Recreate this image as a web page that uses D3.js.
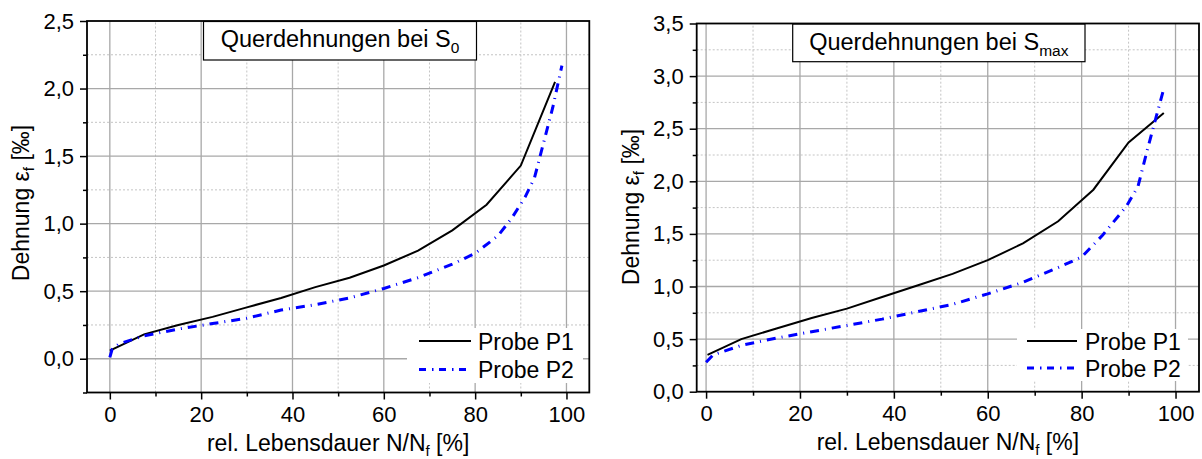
<!DOCTYPE html>
<html>
<head>
<meta charset="utf-8">
<script src="https://cdn.jsdelivr.net/npm/d3@7/dist/d3.min.js"></script>
<style>
  html, body { margin: 0; padding: 0; background: #fff; }
  svg { display: block; font-family: "Liberation Sans", Arial, sans-serif; }
</style>
</head>
<body>
<svg id="chart" width="1202" height="459"></svg>
<script>
// ---------- data ----------
const xTicks = [0, 20, 40, 60, 80, 100];
const xMinorTicks = [10, 30, 50, 70, 90];
const yTicksS0 = [0, 0.5, 1.0, 1.5, 2.0, 2.5];
const yMinorS0 = [-0.25, 0.25, 0.75, 1.25, 1.75, 2.25];
const yTicksSmax = [0, 0.5, 1.0, 1.5, 2.0, 2.5, 3.0, 3.5];
const yMinorSmax = [0.25, 0.75, 1.25, 1.75, 2.25, 2.75, 3.25];

const seriesNames = ["Probe P1", "Probe P2"];

const s0P1x = [0, 7.5, 15, 22.5, 30, 37.5, 45, 52.5, 60, 67.5, 75, 82.5, 90, 97.5];
const s0P1y = [0.06, 0.18, 0.25, 0.31, 0.38, 0.45, 0.53, 0.60, 0.69, 0.80, 0.95, 1.14, 1.43, 2.05];
const s0P2x = [0, 0.5, 2, 7.5, 15, 22.5, 30, 37.5, 45, 52.5, 60, 67.5, 75, 80, 85, 88, 91, 93, 95, 97, 99];
const s0P2y = [0.01, 0.07, 0.11, 0.17, 0.22, 0.26, 0.30, 0.36, 0.40, 0.45, 0.52, 0.60, 0.70, 0.78, 0.91, 1.04, 1.20, 1.34, 1.60, 1.86, 2.17];

const smP1x = [0.3, 7.5, 15, 22.5, 30, 37.5, 45, 52.5, 60, 67.5, 75, 82.5, 90, 97.5];
const smP1y = [0.35, 0.50, 0.60, 0.70, 0.79, 0.90, 1.01, 1.12, 1.25, 1.41, 1.62, 1.92, 2.37, 2.65];
const smP2x = [0, 1.5, 7.5, 15, 22.5, 30, 37.5, 45, 52.5, 60, 67.5, 75, 80, 84.5, 89.5, 92, 94, 95.5, 97.5];
const smP2y = [0.28, 0.35, 0.44, 0.51, 0.57, 0.63, 0.69, 0.76, 0.83, 0.93, 1.04, 1.18, 1.28, 1.49, 1.76, 1.95, 2.30, 2.55, 2.88];

// ---------- drawing ----------
const svg = d3.select("#chart");
const fmt = v => d3.format(".1f")(v).replace(".", ",");
const zip = (xs, ys) => xs.map((x, i) => ({x, y: ys[i]}));

function panel(cfg) {
  const x = d3.scaleLinear().domain(cfg.xDomain).range(cfg.xRange);
  const y = d3.scaleLinear().domain(cfg.yDomain).range(cfg.yRange);
  const g = svg.append("g");
  const [x0, x1] = cfg.xRange, [y0, y1] = cfg.yRange; // y0 bottom, y1 top

  // minor grid (dotted)
  g.append("g").selectAll("line").data(xMinorTicks).join("line")
    .attr("x1", d => x(d)).attr("x2", d => x(d)).attr("y1", y0).attr("y2", y1)
    .attr("stroke", "#c4c4c4").attr("stroke-width", 1).attr("stroke-dasharray", "2,2");
  g.append("g").selectAll("line").data(cfg.yMinor.filter(v => v > cfg.yDomain[0])).join("line")
    .attr("x1", x0).attr("x2", x1).attr("y1", d => y(d)).attr("y2", d => y(d))
    .attr("stroke", "#c4c4c4").attr("stroke-width", 1).attr("stroke-dasharray", "2,2");
  // major grid
  g.append("g").selectAll("line").data(xTicks).join("line")
    .attr("x1", d => x(d)).attr("x2", d => x(d)).attr("y1", y0).attr("y2", y1)
    .attr("stroke", "#a8a8a8").attr("stroke-width", 1.3);
  g.append("g").selectAll("line").data(cfg.yTicks.filter(v => v > cfg.yDomain[0] && v < cfg.yDomain[1])).join("line")
    .attr("x1", x0).attr("x2", x1).attr("y1", d => y(d)).attr("y2", d => y(d))
    .attr("stroke", "#a8a8a8").attr("stroke-width", 1.3);

  // legend background
  g.append("rect").attr("x", cfg.legend.bx).attr("y", cfg.legend.by)
    .attr("width", cfg.legend.bw).attr("height", cfg.legend.bh).attr("fill", "#fff");

  // title box
  g.append("rect").attr("x", cfg.title.x).attr("y", cfg.title.y)
    .attr("width", cfg.title.w).attr("height", cfg.title.h)
    .attr("fill", "#fff").attr("stroke", "#000").attr("stroke-width", 1.2);
  const tt = g.append("text").attr("x", cfg.title.x + cfg.title.w / 2).attr("y", cfg.title.y + 25.5)
    .attr("text-anchor", "middle").attr("font-size", 23.5).attr("fill", "#000");
  tt.append("tspan").text("Querdehnungen bei S");
  tt.append("tspan").attr("font-size", 15.5).attr("dy", 6).text(cfg.sub);

  // axes
  g.append("g").attr("transform", `translate(${x0},0)`)
    .call(d3.axisLeft(y).tickValues(cfg.yTicks).tickFormat(fmt).tickSize(7).tickPadding(6));
  g.append("g").attr("transform", `translate(${x0},0)`)
    .call(d3.axisLeft(y).tickValues(cfg.yMinor).tickFormat("").tickSize(4));
  g.append("g").attr("transform", `translate(0,${y0})`)
    .call(d3.axisBottom(x).tickValues(xTicks).tickFormat(d3.format("d")).tickSize(7).tickPadding(7));
  g.append("g").attr("transform", `translate(0,${y0})`)
    .call(d3.axisBottom(x).tickValues(xMinorTicks).tickFormat("").tickSize(4));
  g.selectAll(".domain").remove();
  g.selectAll(".tick line").attr("stroke", "#000").attr("stroke-width", 1.5);
  g.selectAll(".tick text").attr("font-size", 22).attr("fill", "#000")
    .attr("font-family", "Liberation Sans, Arial, sans-serif");

  // frame
  g.append("rect").attr("x", x0).attr("y", y1).attr("width", x1 - x0).attr("height", y0 - y1)
    .attr("fill", "none").attr("stroke", "#000").attr("stroke-width", 1.8);

  // curves
  const line = d3.line().x(d => x(d.x)).y(d => y(d.y));
  g.append("path").datum(zip(cfg.p1x, cfg.p1y)).attr("d", line)
    .attr("fill", "none").attr("stroke", "#000").attr("stroke-width", 2);
  g.append("path").datum(zip(cfg.p2x, cfg.p2y)).attr("d", line)
    .attr("fill", "none").attr("stroke", "#0000ff").attr("stroke-width", 3)
    .attr("stroke-dasharray", "9,6,1,6");

  // legend
  const L = cfg.legend;
  [0, 1].forEach(i => {
    const ly = L.y0 + i * L.dy;
    g.append("line").attr("x1", L.lx1).attr("x2", L.lx2).attr("y1", ly).attr("y2", ly)
      .attr("stroke", i === 0 ? "#000" : "#0000ff").attr("stroke-width", i === 0 ? 2 : 3)
      .attr("stroke-dasharray", i === 0 ? null : "7,6,1.5,5.5");
    g.append("text").attr("x", L.tx).attr("y", ly + 8.5).attr("font-size", 23).attr("fill", "#000")
      .text(seriesNames[i]);
  });

  // axis titles
  const xt = g.append("text").attr("x", (x0 + x1) / 2).attr("y", y0 + 58)
    .attr("text-anchor", "middle").attr("font-size", 23).attr("fill", "#000");
  xt.append("tspan").text("rel. Lebensdauer N/N");
  xt.append("tspan").attr("font-size", 15).attr("dy", 5).text("f");
  xt.append("tspan").attr("dy", -5).text(" [%]");

  const yt = g.append("text")
    .attr("transform", `translate(${x0 - 58},${cfg.yTitleC}) rotate(-90)`)
    .attr("text-anchor", "middle").attr("font-size", 23).attr("fill", "#000");
  yt.append("tspan").text("Dehnung ε");
  yt.append("tspan").attr("font-size", 15).attr("dy", 5).text("f");
  yt.append("tspan").attr("dy", -5).text(" [‰]");
}

panel({
  xDomain: [-5, 105], xRange: [87, 589.3],
  yDomain: [-0.25, 2.5], yRange: [392.5, 21],
  yTicks: yTicksS0, yMinor: yMinorS0,
  p1x: s0P1x, p1y: s0P1y, p2x: s0P2x, p2y: s0P2y,
  sub: "0",
  title: {x: 203.5, y: 21.5, w: 273, h: 38.5},
  legend: {bx: 407, by: 328, bw: 176, bh: 55, lx1: 419, lx2: 471, tx: 478, y0: 341, dy: 28.5},
  yTitleC: 203
});

panel({
  xDomain: [-2, 105], xRange: [696.7, 1199],
  yDomain: [0, 3.5], yRange: [391.7, 23.5],
  yTicks: yTicksSmax, yMinor: yMinorSmax,
  p1x: smP1x, p1y: smP1y, p2x: smP2x, p2y: smP2y,
  sub: "max",
  title: {x: 792.7, y: 24, w: 292.3, h: 37.7},
  legend: {bx: 1017, by: 329, bw: 171, bh: 52, lx1: 1027, lx2: 1077, tx: 1085, y0: 341, dy: 27},
  yTitleC: 207
});
</script>
</body>
</html>
